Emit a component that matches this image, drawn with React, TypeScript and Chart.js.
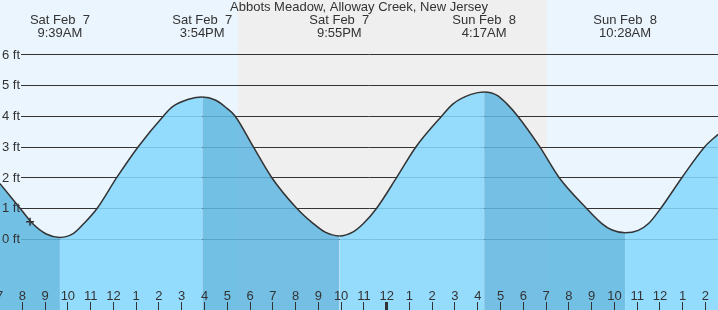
import React, { useEffect, useRef } from "react";
import { Chart, registerables } from "chart.js";

Chart.register(...registerables);

const TITLE = "Abbots Meadow, Alloway Creek, New Jersey";

// hours since Sat Feb 7 00:00
const X_MIN = 7.02;
const X_MAX = 38.55;
const Y_MIN = -2.31;
const Y_MAX = 7.77;

const TIDE_HOURS = [
  7.02, 7.9, 8.45, 9.05, 9.65, 10.25, 10.7, 11.29, 12.15, 13.09, 14.2, 14.6, 15.3, 15.9,
  16.5, 16.9, 17.34, 18.14, 18.95, 20.05, 20.78, 21.3, 21.92, 22.55, 22.98, 23.56, 24.44,
  25.29, 26.42, 26.93, 27.7, 28.28, 28.85, 29.27, 29.75, 30.72, 31.57, 32.77, 33.45, 33.9,
  34.47, 35.05, 35.5, 36.04, 36.97, 37.97, 38.55,
];
const TIDE_FEET = [
  1.8, 1.0, 0.5, 0.16, 0.05, 0.18, 0.5, 1.0, 2.0, 3.0, 4.0, 4.3, 4.54, 4.62,
  4.51, 4.3, 4.0, 3.0, 2.0, 1.0, 0.5, 0.22, 0.1, 0.24, 0.5, 1.0, 2.0,
  3.0, 4.0, 4.4, 4.7, 4.78, 4.67, 4.4, 4.0, 3.0, 2.0, 1.0, 0.5, 0.29,
  0.2, 0.28, 0.5, 1.0, 2.0, 3.0, 3.4,
];

const EXTREME_HOURS = [9.65, 15.9, 21.92, 28.28, 34.47];
const EXTREME_DATES = ["Sat Feb  7", "Sat Feb  7", "Sat Feb  7", "Sun Feb  8", "Sun Feb  8"];
const EXTREME_TIMES = ["9:39AM", "3:54PM", "9:55PM", "4:17AM", "10:28AM"];

const NOW_HOUR = 8.34;
const NOW_FEET = 0.56;

const SUNSET_HOUR = 17.47;
const SUNRISE_HOUR = 31.04;

const FEET_TICKS = [0, 1, 2, 3, 4, 5, 6];
const FEET_LABELS = ["0 ft", "1 ft", "2 ft", "3 ft", "4 ft", "5 ft", "6 ft"];

const FIRST_HOUR = 7;
const HOUR_LABELS = [
  "7", "8", "9", "10", "11", "12", "1", "2", "3", "4", "5", "6", "7", "8", "9", "10", "11",
  "12", "1", "2", "3", "4", "5", "6", "7", "8", "9", "10", "11", "12", "1", "2",
];
const MIDNIGHT_HOUR = 24;

const DAY_BG = "#ebf5fe";
const NIGHT_BG = "#efefef";
const RISING_FILL = "rgba(134,215,254,0.86)";
const FALLING_FILL = "rgba(96,183,225,0.86)";
const INK = "#333333";
const FONT = "13px 'Liberation Sans', Arial, sans-serif";

const tidePlugin = {
  id: "tideDecor",
  beforeDraw(chart: any) {
    const { ctx, chartArea, scales } = chart;
    const x = scales.x;
    ctx.save();
    ctx.fillStyle = DAY_BG;
    ctx.fillRect(chartArea.left, chartArea.top, chartArea.right - chartArea.left, chartArea.bottom - chartArea.top);
    const x0 = x.getPixelForValue(SUNSET_HOUR);
    const x1 = x.getPixelForValue(SUNRISE_HOUR);
    ctx.fillStyle = NIGHT_BG;
    ctx.fillRect(x0, chartArea.top, x1 - x0, chartArea.bottom - chartArea.top);
    ctx.restore();
  },
  beforeDatasetsDraw(chart: any) {
    const { ctx, chartArea, scales } = chart;
    const y = scales.y;
    ctx.save();
    ctx.strokeStyle = INK;
    ctx.lineWidth = 1;
    FEET_TICKS.forEach((v) => {
      const py = Math.round(y.getPixelForValue(v)) + 0.5;
      ctx.beginPath();
      ctx.moveTo(21, py);
      ctx.lineTo(chartArea.right, py);
      ctx.stroke();
    });
    ctx.restore();
  },
  afterDatasetsDraw(chart: any) {
    const { ctx, chartArea, scales } = chart;
    const x = scales.x;
    const y = scales.y;
    ctx.save();
    ctx.font = FONT;
    ctx.fillStyle = INK;
    ctx.textAlign = "left";
    ctx.textBaseline = "middle";
    FEET_TICKS.forEach((v, i) => {
      ctx.fillText(FEET_LABELS[i], 2, y.getPixelForValue(v) + 0.5);
    });
    ctx.textAlign = "center";
    HOUR_LABELS.forEach((lab, i) => {
      const h = FIRST_HOUR + i;
      const px = x.getPixelForValue(h);
      ctx.fillText(lab, px, chartArea.bottom - 14);
      const w = h === MIDNIGHT_HOUR ? 3 : 1;
      ctx.fillRect(Math.round(px - w / 2), chartArea.bottom - 8, w, 8);
    });
    EXTREME_HOURS.forEach((h, i) => {
      const px = x.getPixelForValue(h);
      ctx.fillText(EXTREME_DATES[i], px, 20);
      ctx.fillText(EXTREME_TIMES[i], px, 33);
    });
    ctx.fillText(TITLE, (chartArea.left + chartArea.right) / 2, 7.5);
    ctx.restore();
  },
};

export default function App() {
  const ref = useRef<HTMLCanvasElement>(null);
  useEffect(() => {
    document.body.style.margin = "0";
    const canvas = ref.current;
    if (!canvas) return;
    const data = TIDE_HOURS.map((h, i) => ({ x: h, y: TIDE_FEET[i] }));
    const chart = new Chart(canvas, {
      type: "line",
      data: {
        datasets: [
          {
            data: [{ x: NOW_HOUR, y: NOW_FEET }],
            showLine: false,
            pointStyle: "cross",
            pointRadius: 4,
            pointBorderWidth: 1.5,
            pointBorderColor: INK,
            pointBackgroundColor: INK,
            fill: false,
            order: 0,
          },
          {
            data,
            borderColor: INK,
            borderWidth: 1.5,
            pointRadius: 0,
            cubicInterpolationMode: "monotone",
            fill: "start",
            backgroundColor: RISING_FILL,
            segment: {
              backgroundColor: (c: any) => (c.p1.parsed.y < c.p0.parsed.y ? FALLING_FILL : RISING_FILL),
            },
            order: 1,
          },
        ],
      } as any,
      options: {
        animation: false,
        responsive: false,
        layout: { padding: 0, autoPadding: false },
        plugins: { legend: { display: false }, tooltip: { enabled: false }, title: { display: false } },
        scales: {
          x: { type: "linear", min: X_MIN, max: X_MAX, display: false },
          y: { type: "linear", min: Y_MIN, max: Y_MAX, display: false },
        },
      } as any,
      plugins: [tidePlugin],
    });
    return () => chart.destroy();
  }, []);
  return (
    <div style={{ position: "fixed", left: 0, top: 0, width: 718, height: 310 }}>
      <canvas ref={ref} width={718} height={310} style={{ display: "block" }} />
    </div>
  );
}
